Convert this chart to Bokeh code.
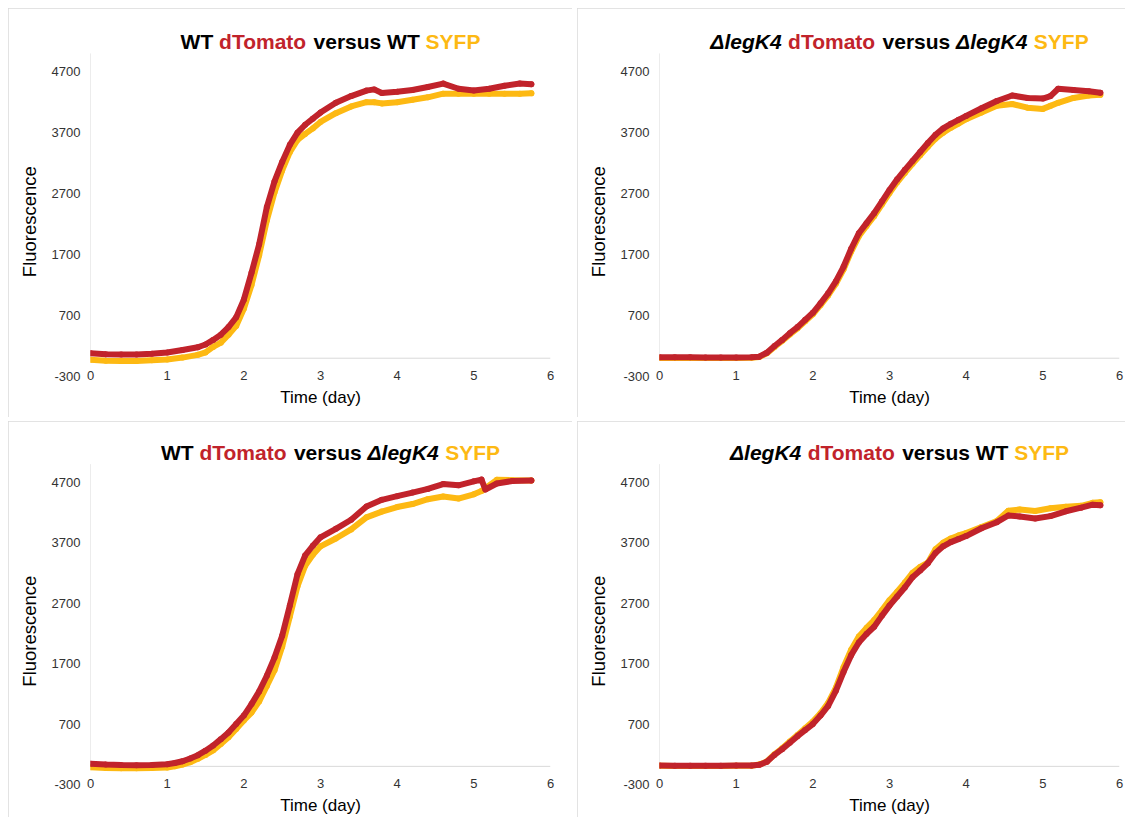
from bokeh.plotting import figure
from bokeh.models import FixedTicker, Span, Label
from bokeh.layouts import row, column
from bokeh.embed import file_html
from bokeh.resources import INLINE

# ---------------- data ----------------
X_TICKS = [0, 1, 2, 3, 4, 5, 6]
Y_TICKS = [-300, 700, 1700, 2700, 3700, 4700]
X_RANGE = (0, 6)
Y_AXIS_MIN = -300
Y_AXIS_MAX = 5000
Y_VIEW_TOP = 5540          # extra headroom inside the frame for the coloured title

# Panel 1: WT dTomato versus WT SYFP
t_wt_wt = [0, 0.2, 0.4, 0.6, 0.8, 1.0, 1.2, 1.4, 1.5, 1.6, 1.7, 1.8, 1.9, 2.0, 2.1, 2.2, 2.3, 2.4, 2.5,
           2.6, 2.7, 2.8, 2.9, 3.0, 3.2, 3.4, 3.6, 3.7, 3.8, 4.0, 4.2, 4.4, 4.6, 4.8, 5.0, 5.2, 5.4, 5.6, 5.75]
red_wt_wt = [80, 65, 60, 62, 75, 95, 135, 180, 225, 300, 385, 510, 670, 960, 1400, 1870, 2480, 2900, 3220,
             3500, 3700, 3830, 3930, 4030, 4190, 4300, 4390, 4410, 4350, 4370, 4400, 4450, 4505, 4420, 4390,
             4420, 4470, 4505, 4495]
yel_wt_wt = [-25, -40, -45, -45, -35, -20, 10, 55, 95, 185, 255, 385, 530, 810, 1200, 1690, 2260, 2720, 3080,
             3380, 3580, 3680, 3770, 3876, 4020, 4130, 4200, 4200, 4180, 4200, 4240, 4280, 4340, 4340, 4340,
             4340, 4340, 4340, 4345]

# Panel 2: dlegK4 dTomato versus dlegK4 SYFP
t_k4_k4 = [0, 0.2, 0.4, 0.6, 0.8, 1.0, 1.2, 1.3, 1.4, 1.5, 1.6, 1.7, 1.8, 1.9, 2.0, 2.1, 2.2, 2.3, 2.4, 2.5,
           2.6, 2.7, 2.8, 2.9, 3.0, 3.1, 3.2, 3.3, 3.4, 3.5, 3.6, 3.7, 3.8, 3.9, 4.0, 4.2, 4.4, 4.6, 4.8, 5.0,
           5.1, 5.2, 5.4, 5.6, 5.75]
red_k4_k4 = [15, 15, 15, 12, 12, 12, 15, 25, 90, 200, 300, 410, 510, 630, 745, 900, 1065, 1260, 1500, 1795,
             2050, 2215, 2380, 2570, 2760, 2935, 3090, 3235, 3383, 3530, 3665, 3770, 3845, 3910, 3975, 4100,
             4220, 4310, 4270, 4260, 4300, 4420, 4400, 4380, 4355]
yel_k4_k4 = [5, 5, 5, 2, 2, 2, 8, 20, 80, 185, 285, 390, 490, 605, 720, 870, 1030, 1220, 1455, 1750,
             2000, 2170, 2330, 2520, 2710, 2885, 3040, 3190, 3330, 3470, 3600, 3700, 3780, 3850, 3920, 4030,
             4140, 4170, 4110, 4090, 4140, 4190, 4270, 4310, 4320]

# Panel 3: WT dTomato versus dlegK4 SYFP
t_wt_k4 = [0, 0.2, 0.4, 0.6, 0.8, 1.0, 1.1, 1.2, 1.3, 1.4, 1.5, 1.6, 1.7, 1.8, 1.9, 2.0, 2.1, 2.2, 2.3, 2.4,
           2.5, 2.6, 2.7, 2.8, 2.9, 3.0, 3.2, 3.4, 3.6, 3.8, 4.0, 4.2, 4.4, 4.6, 4.8, 5.0, 5.1, 5.15, 5.3,
           5.5, 5.75]
red_wt_k4 = [45, 30, 22, 20, 22, 35, 55, 85, 130, 185, 260, 345, 450, 560, 700, 840, 1030, 1240, 1500, 1800,
             2160, 2660, 3180, 3490, 3650, 3790, 3930, 4080, 4300, 4410, 4470, 4530, 4590, 4670, 4650, 4715,
             4745, 4580, 4680, 4720, 4730]
yel_wt_k4 = [-15, -25, -30, -30, -28, -20, 0, 30, 70, 125, 190, 265, 370, 480, 620, 760, 890, 1075, 1330, 1590,
             1980, 2480, 2980, 3320, 3500, 3640, 3770, 3920, 4120, 4215, 4290, 4340, 4420, 4465, 4430, 4500,
             4555, 4600, 4740, 4735, 4730]

# Panel 4: dlegK4 dTomato versus WT SYFP
t_k4_wt = [0, 0.2, 0.4, 0.6, 0.8, 1.0, 1.2, 1.3, 1.4, 1.5, 1.6, 1.7, 1.8, 1.9, 2.0, 2.1, 2.2, 2.3, 2.4, 2.5,
           2.6, 2.7, 2.8, 2.9, 3.0, 3.1, 3.2, 3.3, 3.4, 3.5, 3.6, 3.7, 3.8, 3.9, 4.0, 4.2, 4.4, 4.55, 4.7, 4.9,
           5.1, 5.3, 5.5, 5.65, 5.75]
red_k4_wt = [15, 12, 10, 10, 12, 15, 15, 25, 75, 190, 285, 390, 500, 600, 700, 840, 1000, 1250, 1560, 1840,
             2050, 2190, 2310, 2490, 2660, 2810, 2960, 3130, 3240, 3360, 3530, 3640, 3710, 3760, 3810, 3940,
             4040, 4150, 4135, 4100, 4140, 4220, 4280, 4330, 4320]
yel_k4_wt = [10, 8, 6, 6, 8, 10, 10, 30, 80, 200, 300, 410, 520, 630, 740, 880, 1050, 1300, 1640, 1930,
             2150, 2290, 2420, 2580, 2750, 2890, 3040, 3200, 3300, 3370, 3590, 3700, 3770, 3820, 3860, 3960,
             4060, 4230, 4250, 4225, 4270, 4295, 4310, 4360, 4370]

BLACK = "#000000"
RED = "#c1232b"
YELLOW = "#fdb913"
AXIS_GRAY = "#d9d9d9"

X_LABEL = "Time (day)"
Y_LABEL = "Fluorescence"

titles = [
    [("WT", BLACK, "bold"), ("dTomato", RED, "bold"), ("versus", BLACK, "bold"), ("WT", BLACK, "bold"), ("SYFP", YELLOW, "bold")],
    [("\u0394legK4", BLACK, "bold italic"), ("dTomato", RED, "bold"), ("versus", BLACK, "bold"), ("\u0394legK4", BLACK, "bold italic"), ("SYFP", YELLOW, "bold")],
    [("WT", BLACK, "bold"), ("dTomato", RED, "bold"), ("versus", BLACK, "bold"), ("\u0394legK4", BLACK, "bold italic"), ("SYFP", YELLOW, "bold")],
    [("\u0394legK4", BLACK, "bold italic"), ("dTomato", RED, "bold"), ("versus", BLACK, "bold"), ("WT", BLACK, "bold"), ("SYFP", YELLOW, "bold")],
]

# Arial / Liberation Sans Bold advance widths (per 1000 em)
ADV = {' ': 278, 'W': 944, 'T': 611, 'd': 611, 'o': 611, 'm': 889, 'a': 556, 't': 333, 'v': 556,
       'e': 556, 'r': 389, 's': 556, 'u': 611, 'S': 667, 'Y': 667, 'F': 611, 'P': 667,
       '\u0394': 700, 'l': 278, 'g': 611, 'K': 722, '4': 556}

FONT = "Liberation Sans"
TITLE_SIZE = 21
FRAME_W = 460


def add_title(p, tokens, y_screen):
    widths = [sum(ADV[c] for c in t) / 1000 * TITLE_SIZE for t, _, _ in tokens]
    sp = ADV[' '] / 1000 * TITLE_SIZE
    total = sum(widths) + sp * (len(tokens) - 1)
    x = FRAME_W / 2 + 10 - total / 2
    for (t, c, st), w in zip(tokens, widths):
        p.add_layout(Label(x=x, y=y_screen, x_units="screen", y_units="screen", text=t,
                           text_color=c, text_font=FONT, text_font_style=st,
                           text_font_size=f"{TITLE_SIZE}px", text_baseline="alphabetic",
                           text_align="left"))
        x += w + sp


def make_panel(t, red, yel, tokens, width, height, top, bottom, right, title_y):
    p = figure(width=width, height=height, x_range=X_RANGE, y_range=(Y_AXIS_MIN, Y_VIEW_TOP),
               output_backend="svg", toolbar_location=None,
               min_border_left=82, min_border_right=right,
               min_border_top=top, min_border_bottom=bottom)
    p.outline_line_color = None
    p.background_fill_color = "white"
    p.border_fill_color = "white"
    p.xgrid.visible = False
    p.ygrid.visible = False
    p.styles = {"outline": "1px solid #dadada", "outline-offset": "-1px"}

    for ax in (p.xaxis[0], p.yaxis[0]):
        ax.axis_line_color = None
        ax.major_tick_line_color = None
        ax.minor_tick_line_color = None
        ax.major_tick_out = 0
        ax.major_tick_in = 0
        ax.minor_tick_out = 0
        ax.minor_tick_in = 0
        ax.major_label_text_font = FONT
        ax.major_label_text_font_size = "13px"
        ax.major_label_text_color = "#333333"
        ax.axis_label_text_font = FONT
        ax.axis_label_text_font_style = "normal"
        ax.axis_label_text_color = "#000000"
    p.xaxis.ticker = FixedTicker(ticks=X_TICKS)
    p.yaxis.ticker = FixedTicker(ticks=Y_TICKS)
    p.yaxis.major_label_overrides = {v: str(v) for v in Y_TICKS}
    p.xaxis.major_label_standoff = -6
    p.yaxis.major_label_standoff = 10
    p.xaxis.axis_label = X_LABEL
    p.xaxis.axis_label_text_font_size = "17px"
    p.xaxis.axis_label_standoff = 5
    # non-breaking padding keeps the label centred on the -300..5000 axis, not on the title headroom
    p.yaxis.axis_label = Y_LABEL + "\u00a0" * 9
    p.yaxis.axis_label_text_font_size = "18.5px"
    p.yaxis.axis_label_standoff = 9

    # axis lines: horizontal at y = 0, vertical at x = 0 from 0 to the axis maximum
    p.add_layout(Span(location=0, dimension="width", line_color=AXIS_GRAY, line_width=1, level="underlay"))
    p.segment(x0=[X_RANGE[0]], y0=[0], x1=[X_RANGE[0]], y1=[Y_AXIS_MAX], line_color=AXIS_GRAY, line_width=1)

    p.line(t, yel, line_color=YELLOW, line_width=6, line_join="round", line_cap="round")
    p.scatter(t, yel, size=6, fill_color=YELLOW, line_color=None)
    p.line(t, red, line_color=RED, line_width=6, line_join="round", line_cap="round")
    p.scatter(t, red, size=6, fill_color=RED, line_color=None)

    add_title(p, tokens, title_y)
    return p


p1 = make_panel(t_wt_wt, red_wt_wt, yel_wt_wt, titles[0], 564, 409, 12, 41, 22, 335)
p2 = make_panel(t_k4_k4, red_k4_k4, yel_k4_k4, titles[1], 548, 409, 12, 41, 6, 335)
p3 = make_panel(t_wt_k4, red_wt_k4, yel_wt_k4, titles[2], 564, 396, 10, 30, 22, 332)
p4 = make_panel(t_k4_wt, red_k4_wt, yel_k4_wt, titles[3], 548, 396, 10, 30, 6, 332)

layout = column(row(p1, p2, spacing=5), row(p3, p4, spacing=5), spacing=4, margin=(8, 0, 0, 8))

open("out.html", "w").write(file_html(layout, INLINE))
